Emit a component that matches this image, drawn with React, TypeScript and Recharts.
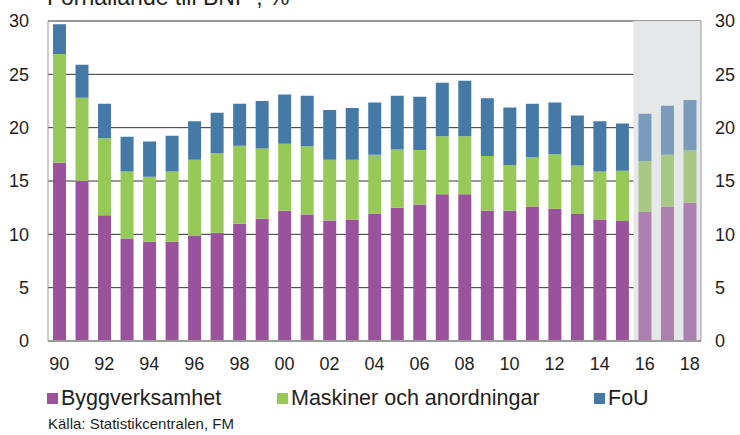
import { BarChart, Bar, XAxis, YAxis, CartesianGrid, ReferenceArea, Cell } from "recharts";

const years = [
  "90", "91", "92", "93", "94", "95", "96", "97", "98", "99",
  "00", "01", "02", "03", "04", "05", "06", "07", "08", "09",
  "10", "11", "12", "13", "14", "15", "16", "17", "18",
];
const bygg = [
  16.7, 15.0, 11.8, 9.6, 9.3, 9.3, 9.9, 10.15, 11.0, 11.45,
  12.2, 11.85, 11.3, 11.4, 11.95, 12.5, 12.8, 13.75, 13.75, 12.2,
  12.2, 12.6, 12.4, 11.9, 11.4, 11.25, 12.1, 12.6, 12.95,
];
const maskiner = [
  10.2, 7.8, 7.2, 6.3, 6.1, 6.6, 7.1, 7.45, 7.3, 6.6,
  6.3, 6.4, 5.7, 5.6, 5.5, 5.45, 5.1, 5.45, 5.45, 5.15,
  4.3, 4.65, 5.1, 4.55, 4.5, 4.7, 4.75, 4.85, 4.9,
];
const fou = [
  2.8, 3.1, 3.25, 3.25, 3.3, 3.35, 3.6, 3.8, 3.95, 4.45,
  4.6, 4.75, 4.65, 4.85, 4.9, 5.05, 5.0, 5.0, 5.2, 5.4,
  5.4, 5.0, 4.85, 4.7, 4.7, 4.45, 4.45, 4.6, 4.75,
];
const forecastFrom = 26; // 2016 onwards
const yTicks = [0, 5, 10, 15, 20, 25, 30];

const colors = {
  bygg: ["#9b529c", "#ad80b0"],
  maskiner: ["#96c957", "#a8c986"],
  fou: ["#457aa6", "#7a9cba"],
};

const data = years.map((year, i) => ({ year, bygg: bygg[i], maskiner: maskiner[i], fou: fou[i] }));

const font = "'Liberation Sans', Arial, sans-serif";
const tick = { fill: "#1e1e1e", fontSize: 18, fontFamily: font };

function LegendItem({ x, color, label }: { x: number; color: string; label: string }) {
  return (
    <div style={{ position: "absolute", left: x, top: 386, display: "flex", alignItems: "center", fontSize: 21.5, color: "#1e1e1e", whiteSpace: "nowrap" }}>
      <span style={{ width: 11, height: 11, background: color, display: "inline-block", marginRight: 3 }} />
      <span>{label}</span>
    </div>
  );
}

export default function App() {
  return (
    <div style={{ position: "absolute", left: 0, top: 0, width: 740, height: 435, overflow: "hidden", background: "#fff", fontFamily: font }}>
      <div style={{ position: "absolute", left: 47, top: -14.5, fontSize: 23, lineHeight: "23px", color: "#1e1e1e", whiteSpace: "nowrap" }}>
        Förhållande till BNP , %
      </div>
      <BarChart width={740} height={375} data={data} margin={{ top: 21, right: 0, bottom: 0, left: 0 }} barSize={13}>
        <CartesianGrid vertical={false} stroke="#333" yAxisId="left" />
        <ReferenceArea yAxisId="left" x1="16" x2="18" fill="#e6e7e9" fillOpacity={1} stroke="none" />
        <XAxis
          dataKey="year"
          interval={1}
          height={34}
          tickLine={false}
          tickMargin={10}
          axisLine={{ stroke: "#9a9a9a", strokeWidth: 2 }}
          tick={tick}
        />
        <YAxis
          yAxisId="left"
          domain={[0, 30]}
          ticks={yTicks}
          allowDataOverflow
          width={48}
          tickLine={false}
          tickMargin={13}
          axisLine={{ stroke: "#9a9a9a" }}
          tick={tick}
        />
        <YAxis
          yAxisId="right"
          orientation="right"
          type="number"
          domain={[0, 30]}
          ticks={yTicks}
          allowDataOverflow
          width={39}
          tickLine={false}
          tickMargin={8}
          axisLine={{ stroke: "#9a9a9a" }}
          tick={tick}
        />
        <Bar yAxisId="left" dataKey="bygg" stackId="a" isAnimationActive={false}>
          {data.map((d, i) => (
            <Cell key={d.year} fill={colors.bygg[i >= forecastFrom ? 1 : 0]} />
          ))}
        </Bar>
        <Bar yAxisId="left" dataKey="maskiner" stackId="a" isAnimationActive={false}>
          {data.map((d, i) => (
            <Cell key={d.year} fill={colors.maskiner[i >= forecastFrom ? 1 : 0]} />
          ))}
        </Bar>
        <Bar yAxisId="left" dataKey="fou" stackId="a" isAnimationActive={false}>
          {data.map((d, i) => (
            <Cell key={d.year} fill={colors.fou[i >= forecastFrom ? 1 : 0]} />
          ))}
        </Bar>
      </BarChart>
      <LegendItem x={47} color={colors.bygg[0]} label="Byggverksamhet" />
      <LegendItem x={277} color={colors.maskiner[0]} label="Maskiner och anordningar" />
      <LegendItem x={594} color={colors.fou[0]} label="FoU" />
      <div style={{ position: "absolute", left: 48, top: 415, fontSize: 15, color: "#1e1e1e", whiteSpace: "nowrap" }}>
        Källa: Statistikcentralen, FM
      </div>
    </div>
  );
}
